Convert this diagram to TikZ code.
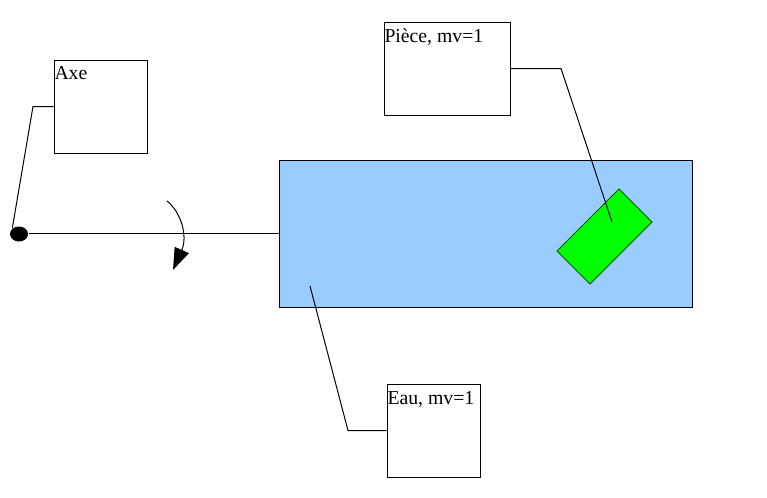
\documentclass[tikz,border=0pt]{standalone}
\usepackage{fontspec}
\setmainfont{Liberation Serif}
\usetikzlibrary{arrows.meta,shapes.geometric}
\definecolor{water}{HTML}{99CCFF}
\definecolor{piece}{HTML}{00FF00}
\definecolor{piecedraw}{HTML}{005000}
\begin{document}
\begin{tikzpicture}[x=0.75pt,y=-0.75pt,line width=0.75pt,
  box/.style={draw=black,fill=white,rectangle,inner sep=0pt},
  lbl/.style={inner sep=0pt,anchor=base west,font=\fontsize{14.8}{17}\selectfont},
  leader/.style={draw=black,line width=0.75pt}]
\useasboundingbox (0,0) rectangle (767,497);
% water
\node[rectangle,draw=black,fill=water,inner sep=0pt,minimum width=309.75pt,minimum height=110.25pt] (water) at (485.5,233.5) {};
% piece
\node[rectangle,draw=piecedraw,fill=piece,inner sep=0pt,minimum width=65.8pt,minimum height=35pt,rotate=45] (part) at (604.5,236.5) {};
% axis dot
\node[ellipse,fill=black,inner sep=0pt,minimum width=13.5pt,minimum height=11.25pt] (dot) at (19,234) {};
\draw (dot.east |- water.west) -- (water.west);
% label boxes
\node[box,minimum width=69.75pt,minimum height=69.75pt] (axe) at (100.5,106.5) {};
\node[lbl] (axet) at (54,79) {Axe};
\node[box,minimum width=94.5pt,minimum height=69.75pt] (pc) at (447,68.5) {};
\node[lbl] (pct) at (384,42) {Pièce, mv=1};
\node[box,minimum width=69.75pt,minimum height=69.75pt] (eau) at (433.5,430.5) {};
\node[lbl] (eaut) at (387,404) {Eau, mv=1};
% leaders
\coordinate (a1) at (33,106.5);
\draw[leader] (axe.west) -- (a1) -- (dot.north west);
\coordinate (p1) at (561,68.5);
\coordinate (p2) at (612,222);
\draw[leader] (pc.east) -- (p1) -- (p2);
\coordinate (e1) at (348,430.5);
\coordinate (e2) at (310,286);
\draw[leader] (eau.west) -- (e1) -- (e2);
% rotation arrow
\coordinate (r0) at (167,201);
\coordinate (r1) at (173,270);
\draw[-{Triangle[length=16.4pt,width=11.5pt]}] (r0) .. controls (181,212) and (188,236) .. (r1);
\end{tikzpicture}
\end{document}
